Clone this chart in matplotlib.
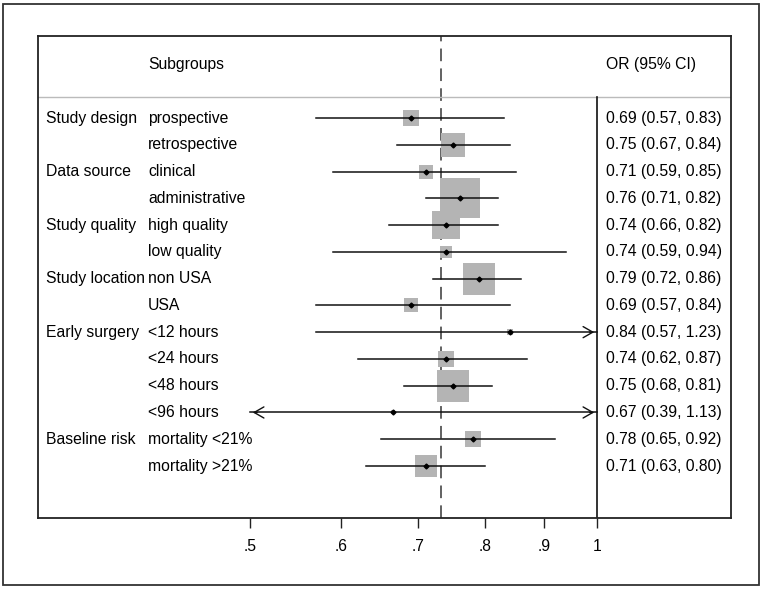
import numpy as np
import matplotlib
matplotlib.use("Agg")
import matplotlib.pyplot as plt
from matplotlib.patches import Rectangle

plt.rcParams['font.family'] = ['Liberation Sans', 'DejaVu Sans']

# data
groups = ["Study design", "", "Data source", "", "Study quality", "",
          "Study location", "", "Early surgery", "", "", "", "Baseline risk", ""]
subgroups = ["prospective", "retrospective", "clinical", "administrative",
             "high quality", "low quality", "non USA", "USA",
             "<12 hours", "<24 hours", "<48 hours", "<96 hours",
             "mortality <21%", "mortality >21%"]
odds = [0.69, 0.75, 0.71, 0.76, 0.74, 0.74, 0.79, 0.69, 0.84, 0.74, 0.75, 0.665, 0.78, 0.71]
lower = [0.57, 0.67, 0.59, 0.71, 0.66, 0.59, 0.72, 0.57, 0.57, 0.62, 0.68, 0.39, 0.65, 0.63]
upper = [0.83, 0.84, 0.85, 0.82, 0.82, 0.94, 0.86, 0.84, 1.23, 0.87, 0.81, 1.13, 0.92, 0.80]
labels = ["0.69 (0.57, 0.83)", "0.75 (0.67, 0.84)", "0.71 (0.59, 0.85)",
          "0.76 (0.71, 0.82)", "0.74 (0.66, 0.82)", "0.74 (0.59, 0.94)",
          "0.79 (0.72, 0.86)", "0.69 (0.57, 0.84)", "0.84 (0.57, 1.23)",
          "0.74 (0.62, 0.87)", "0.75 (0.68, 0.81)", "0.67 (0.39, 1.13)",
          "0.78 (0.65, 0.92)", "0.71 (0.63, 0.80)"]
weights = [16, 39, 14, 100, 49, 9, 68, 14, 3, 18, 64, 0.6, 16, 33]
overall = 0.732
ticks = [0.5, 0.6, 0.7, 0.8, 0.9, 1.0]
tick_labels = [".5", ".6", ".7", ".8", ".9", "1"]

W, H = 764, 590
fs = 11.3
fig = plt.figure(figsize=(W / 100, H / 100), dpi=100)

# outer frame
fig.add_artist(Rectangle((3 / W, 1 - 585 / H), 756 / W, 581 / H, transform=fig.transFigure,
                         fill=False, lw=1.3, ec="#333333"))

# inner panel: x 38..731, y 36..518 px
ax = fig.add_axes([38 / W, 1 - 518 / H, 693 / W, 482 / H])
ax.set_xscale("log")
k = (597 - 250) / np.log(2)
ax.set_xlim(np.exp((38 - 597) / k), np.exp((731 - 597) / k))
step = (466 - 118) / 13
ax.set_ylim((518 - 118) / step, -(118 - 36) / step)
for s in ax.spines.values():
    s.set_linewidth(1.3)
    s.set_color("#222222")

ax.set_xticks(ticks)
ax.set_xticklabels(tick_labels, fontsize=fs)
ax.xaxis.set_minor_locator(matplotlib.ticker.NullLocator())
ax.tick_params(axis="x", length=7, width=1, pad=8, color="#222222")
ax.set_yticks([])

y_head = -(118 - 97) / step
ax.axhline(y_head, color="#bbbbbb", lw=1)
ax.plot([1, 1], [ax.get_ylim()[0], y_head], color="#111111", lw=1.2)
ax.axvline(overall, color="#555555", lw=1.3, ls=(0, (7, 4)), zorder=1)

lo_lim, hi_lim = 0.5, 1.0
for i in range(len(odds)):
    side = 4.0 * np.sqrt(weights[i]) * 0.72
    ax.scatter(odds[i], i, marker="s", s=side ** 2, color="#b4b4b4", lw=0, zorder=2)
    a, b = max(lower[i], lo_lim), min(upper[i], hi_lim)
    ax.plot([a, b], [i, i], color="#111111", lw=1.1, zorder=3)
    ax.plot(odds[i], i, marker="D", ms=2.5, color="black", zorder=4)
    if upper[i] > hi_lim:
        ax.annotate("", xy=(hi_lim, i), xytext=(hi_lim * 0.98, i),
                    arrowprops=dict(arrowstyle="->,head_length=0.7,head_width=0.4", lw=1.0, color="#111111"))
    if lower[i] < lo_lim:
        ax.annotate("", xy=(lo_lim, i), xytext=(lo_lim * 1.02, i),
                    arrowprops=dict(arrowstyle="->,head_length=0.7,head_width=0.4", lw=1.0, color="#111111"))

tr = matplotlib.transforms.blended_transform_factory(fig.transFigure, ax.transData)
for i in range(len(odds)):
    ax.text(46 / W, i, groups[i], transform=tr, fontsize=fs, va="center", ha="left")
    ax.text(148 / W, i, subgroups[i], transform=tr, fontsize=fs, va="center", ha="left")
    ax.text(606 / W, i, labels[i], transform=tr, fontsize=fs, va="center", ha="left")

y_title = -(118 - 65) / step
ax.text(148 / W, y_title, "Subgroups", transform=tr, fontsize=fs, va="center", ha="left")
ax.text(606 / W, y_title, "OR (95% CI)", transform=tr, fontsize=fs, va="center", ha="left")

fig.savefig("out.png", dpi=100)
